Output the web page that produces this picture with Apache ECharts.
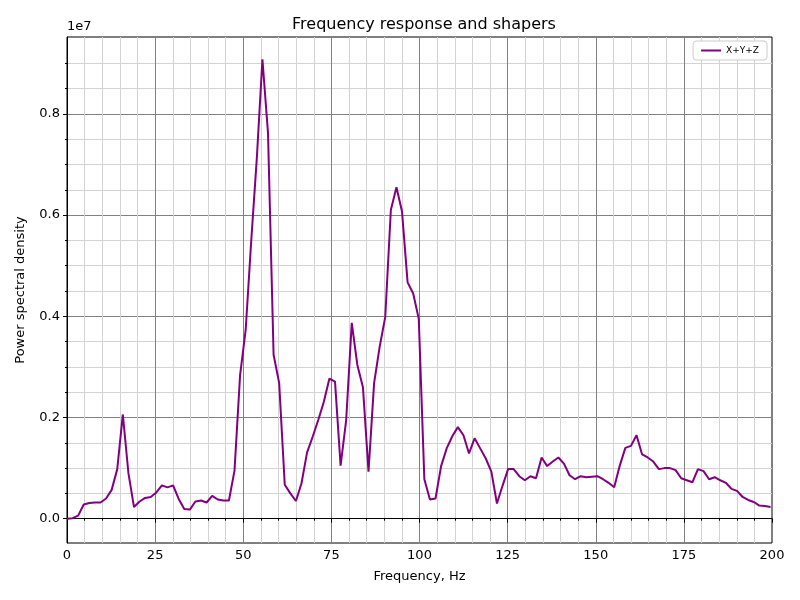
<!DOCTYPE html>
<html>
<head>
<meta charset="utf-8">
<script src="https://cdn.jsdelivr.net/npm/echarts@6/dist/echarts.min.js"></script>
<style>
html, body { margin: 0; padding: 0; background: #fff; }
#chart { width: 800px; height: 600px; }
</style>
</head>
<body>
<div id="chart"></div>
<script>
// bin spacing of the FFT, Hz
var FREQ_STEP = 1.584;

// power spectral density, in units of 1e6 (one value per frequency bin)
var psdE6 = [
	0.00, 0.01, 0.06, 0.28, 0.31, 0.32, 0.32, 0.40, 0.57, 0.98,
	2.06, 0.90, 0.23, 0.34, 0.41, 0.43, 0.52, 0.66, 0.62, 0.66,
	0.39, 0.19, 0.18, 0.34, 0.36, 0.32, 0.45, 0.38, 0.36, 0.36,
	0.95, 2.84, 3.73, 5.50, 7.13, 9.08, 7.62, 3.24, 2.68, 0.67,
	0.50, 0.35, 0.70, 1.31, 1.62, 1.95, 2.31, 2.77, 2.71, 1.05,
	1.95, 3.87, 3.04, 2.60, 0.93, 2.68, 3.40, 3.99, 6.10, 6.55,
	6.07, 4.67, 4.45, 3.95, 0.78, 0.38, 0.40, 1.04, 1.39, 1.63,
	1.81, 1.65, 1.29, 1.59, 1.39, 1.19, 0.93, 0.30, 0.65, 0.98,
	0.98, 0.84, 0.76, 0.84, 0.80, 1.21, 1.04, 1.13, 1.21, 1.09,
	0.86, 0.78, 0.84, 0.82, 0.83, 0.84, 0.78, 0.71, 0.62, 1.05,
	1.40, 1.44, 1.65, 1.27, 1.21, 1.13, 0.98, 1.00, 1.00, 0.96,
	0.80, 0.76, 0.72, 0.98, 0.94, 0.78, 0.82, 0.76, 0.71, 0.59,
	0.55, 0.43, 0.37, 0.33, 0.26, 0.25, 0.23
];

// y tick positions (units of 1e6), labels shown divided by 10 (x1e7)
var yMajorTicks = [0, 2, 4, 6, 8];
var yMinorTicks = [0, 0.5, 1, 1.5, 2, 2.5, 3, 3.5, 4, 4.5, 5, 5.5, 6, 6.5, 7, 7.5, 8, 8.5, 9];

var chart = echarts.init(document.getElementById('chart'));

var lineData = [];
for (var i = 0; i < psdE6.length; i++) {
	lineData.push([i * FREQ_STEP, psdE6[i]]);
}

var FONT = 'DejaVu Sans';
var Y_MIN = -0.48, Y_MAX = 9.52;

var option = {
	backgroundColor: '#fff',
	animation: false,
	title: {
		text: 'Frequency response and shapers',
		left: 419,
		top: 12,
		textAlign: 'center',
		textStyle: { fontFamily: FONT, fontSize: 16, fontWeight: 'normal', color: '#000' }
	},
	graphic: [{
		type: 'text',
		left: 67,
		top: 20,
		style: { text: '1e7', font: '13px "DejaVu Sans"', fill: '#000' }
	}],
	legend: {
		right: 33,
		top: 41,
		data: ['X+Y+Z'],
		icon: 'rect',
		itemWidth: 20,
		itemHeight: 2,
		itemGap: 5,
		padding: [5, 8, 5, 8],
		borderColor: '#ccc',
		borderWidth: 1,
		borderRadius: 3,
		backgroundColor: '#fff',
		textStyle: { fontFamily: FONT, fontSize: 9, color: '#000' }
	},
	grid: {
		left: 67,
		right: 28,
		top: 37,
		bottom: 57,
		show: true,
		borderColor: '#000',
		borderWidth: 1,
		backgroundColor: 'transparent'
	},
	xAxis: {
		type: 'value',
		min: 0,
		max: 200,
		interval: 25,
		name: 'Frequency, Hz',
		nameLocation: 'middle',
		nameGap: 27,
		nameTextStyle: { fontFamily: FONT, fontSize: 13, color: '#000' },
		axisLine: { show: true, lineStyle: { color: '#000' } },
		axisTick: { show: true, length: 4, lineStyle: { color: '#000' } },
		minorTick: { show: true, splitNumber: 5, length: 2, lineStyle: { color: '#000' } },
		axisLabel: { fontFamily: FONT, fontSize: 13, color: '#000', margin: 6 },
		splitLine: { show: true, lineStyle: { color: '#808080', width: 1 } },
		minorSplitLine: { show: true, lineStyle: { color: '#d3d3d3', width: 1 } }
	},
	yAxis: [{
		// minor grid
		type: 'value',
		min: Y_MIN,
		max: Y_MAX,
		axisLine: { show: false },
		axisLabel: { show: false },
		axisTick: { show: true, customValues: yMinorTicks, length: 2, lineStyle: { color: '#000' } },
		splitLine: { show: true, lineStyle: { color: '#d3d3d3', width: 1 } }
	}, {
		// major grid + labels
		type: 'value',
		position: 'left',
		min: Y_MIN,
		max: Y_MAX,
		name: 'Power spectral density',
		nameLocation: 'middle',
		nameGap: 40,
		nameTextStyle: { fontFamily: FONT, fontSize: 13, color: '#000' },
		axisLine: { show: true, lineStyle: { color: '#000' } },
		axisTick: { show: true, customValues: yMajorTicks, length: 4, lineStyle: { color: '#000' } },
		axisLabel: {
			customValues: yMajorTicks,
			fontFamily: FONT,
			fontSize: 13,
			color: '#000',
			margin: 7,
			formatter: function(v) { return (v / 10).toFixed(1); }
		},
		splitLine: { show: true, lineStyle: { color: '#808080', width: 1 } }
	}],
	series: [{
		name: 'X+Y+Z',
		type: 'line',
		yAxisIndex: 0,
		data: lineData,
		showSymbol: false,
		symbol: 'none',
		clip: true,
		lineStyle: { color: '#800080', width: 2 },
		itemStyle: { color: '#800080' }
	}]
};

chart.setOption(option);
</script>
</body>
</html>
